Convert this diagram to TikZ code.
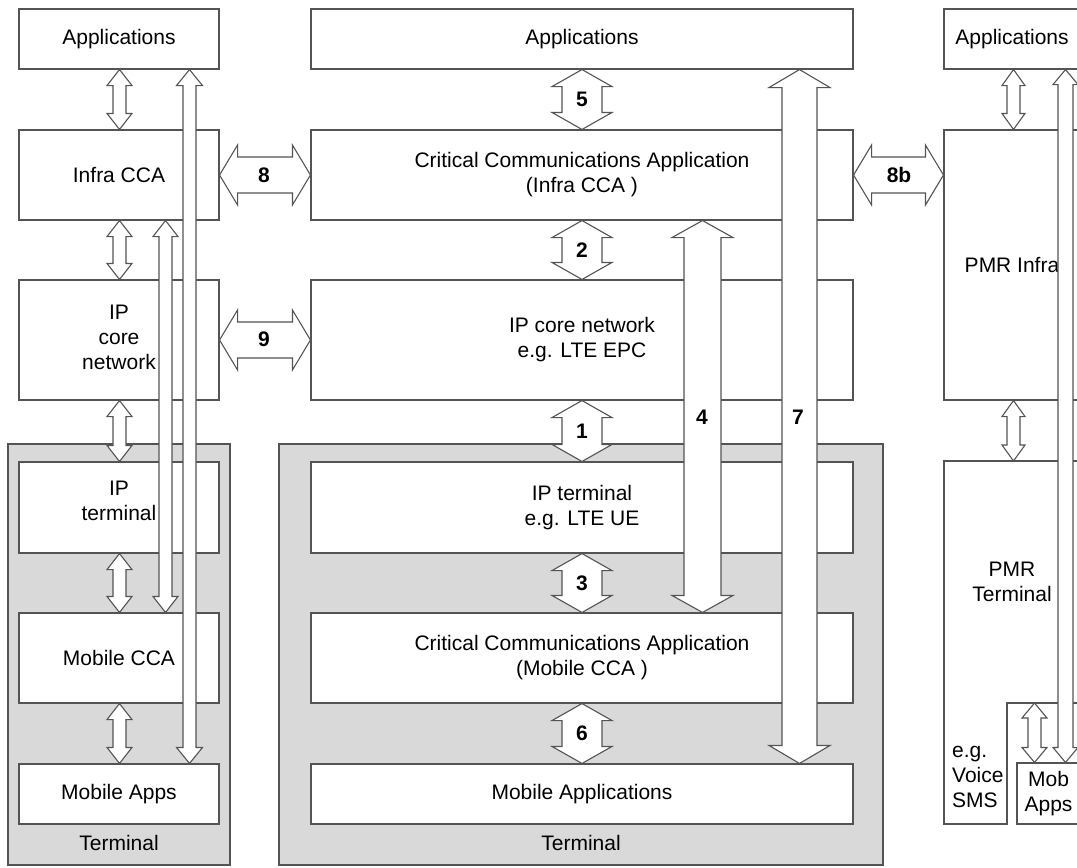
\documentclass[tikz,border=0pt]{standalone}
\usepackage{fontspec}
\setmainfont{Liberation Sans}
\usetikzlibrary{calc}
\definecolor{ln}{gray}{0.33}
\definecolor{tg}{gray}{0.85}
\newcommand\fs{\fontsize{21}{25}\selectfont}
\tikzset{
  box/.style={draw=ln, fill=white, line width=1.1pt, inner sep=0pt, align=center, font=\fs},
  term/.style={draw=ln, fill=tg, line width=1.1pt, inner sep=0pt},
  txt/.style={inner sep=0pt, align=center, font=\fs},
  num/.style={inner sep=0pt, font=\fs\bfseries},
  outl/.style={draw=ln, line width=1.1pt, line join=miter},
  barrow/.style={draw=ln, fill=white, line width=1.1pt, line join=miter}
}
% vertical double block arrow: #1 top anchor, #2 bottom anchor, #3 x, #4 shaft half, #5 head half, #6 head length
\newcommand\VArrow[6]{%
  \filldraw[barrow] let \p1=(#1), \p2=(#2) in
    (#3pt,\y1) -- ({#3pt+#5pt},{\y1-#6pt}) -- ({#3pt+#4pt},{\y1-#6pt})
    -- ({#3pt+#4pt},{\y2+#6pt}) -- ({#3pt+#5pt},{\y2+#6pt}) -- (#3pt,\y2)
    -- ({#3pt-#5pt},{\y2+#6pt}) -- ({#3pt-#4pt},{\y2+#6pt})
    -- ({#3pt-#4pt},{\y1-#6pt}) -- ({#3pt-#5pt},{\y1-#6pt}) -- cycle;}
% horizontal double block arrow: #1 left anchor, #2 right anchor, #3 shaft half, #4 head half, #5 head length
\newcommand\HArrow[5]{%
  \filldraw[barrow] let \p1=(#1), \p2=(#2) in
    (\x1,\y1) -- ({\x1+#5pt},{\y1+#4pt}) -- ({\x1+#5pt},{\y1+#3pt})
    -- ({\x2-#5pt},{\y1+#3pt}) -- ({\x2-#5pt},{\y1+#4pt}) -- (\x2,\y1)
    -- ({\x2-#5pt},{\y1-#4pt}) -- ({\x2-#5pt},{\y1-#3pt})
    -- ({\x1+#5pt},{\y1-#3pt}) -- ({\x1+#5pt},{\y1-#4pt}) -- cycle;}
\begin{document}
\begin{tikzpicture}[x=1pt,y=-1pt]
\useasboundingbox (0,0) rectangle (1077,868);
\clip (0,0) rectangle (1077,868);
\fill[white] (0,0) rectangle (1077,868);

% terminal backgrounds
\node[term, minimum width=222pt, minimum height=421pt] (termL) at (119,654.5) {};
\node[term, minimum width=604pt, minimum height=421pt] (termM) at (581,654.5) {};

% left column
\node[box, minimum width=200pt, minimum height=60pt] (appL) at (119,39) {Applications};
\node[box, minimum width=200pt, minimum height=90pt] (infL) at (119,175) {Infra CCA};
\node[box, minimum width=200pt, minimum height=120pt] (ipcL) at (119,340) {};
\node[txt] (ipcLt) at (119,337) {IP\\core\\network};
\node[box, minimum width=200pt, minimum height=91pt] (iptL) at (119,507.5) {};
\node[txt] (iptLt) at (119,501) {IP\\terminal};
\node[box, minimum width=200pt, minimum height=90pt] (mccL) at (119,658) {Mobile CCA};
\node[box, minimum width=200pt, minimum height=60pt] (mapL) at (119,794) {Mobile Apps};
\node[txt] (tlL) at (119,843) {Terminal};

% middle column
\node[box, minimum width=542pt, minimum height=60pt] (appM) at (582,39) {Applications};
\node[box, minimum width=542pt, minimum height=90pt] (infM) at (582,175) {Critical Communications Application\\(Infra CCA )};
\node[box, minimum width=542pt, minimum height=120pt] (ipcM) at (582,340) {IP core network\\e.g. LTE EPC};
\node[box, minimum width=542pt, minimum height=91pt] (iptM) at (582,507.5) {IP terminal\\e.g. LTE UE};
\node[box, minimum width=542pt, minimum height=90pt] (mccM) at (582,658) {Critical Communications Application\\(Mobile CCA )};
\node[box, minimum width=542pt, minimum height=60pt] (mapM) at (582,794) {Mobile Applications};
\node[txt] (tlM) at (581,843) {Terminal};

% right column
\node[box, minimum width=136pt, minimum height=60pt] (appR) at (1012,39) {Applications};
\node[box, minimum width=136pt, minimum height=270pt] (pmrI) at (1012,265) {PMR Infra};
\node[txt, outer sep=0pt, minimum width=136pt, minimum height=242pt] (pmrT) at (1012,582) {PMR\\Terminal};
\coordinate (pmrBL) at (944,824);
\coordinate (vBR) at (1007,824);
\coordinate (notchC) at (1007,703);
\draw[outl] (pmrT.north east) -- (pmrT.north west) -- (pmrBL) -- (vBR) -- (notchC) -- (pmrT.south east);
\node[txt, align=left, anchor=west] (voice) at (952,777) {e.g.\\Voice\\SMS};
\node[box, minimum width=63pt, minimum height=61pt] (mobA) at (1048.5,793.5) {Mob\\Apps};

% short arrows, left column
\VArrow{appL.south}{infL.north}{119.5}{6.5}{12.5}{16}
\VArrow{infL.south}{ipcL.north}{119.5}{6.5}{12.5}{16}
\VArrow{ipcL.south}{iptL.north}{119.5}{6.5}{12.5}{16}
\VArrow{iptL.south}{mccL.north}{119.5}{6.5}{12.5}{16}
\VArrow{mccL.south}{mapL.north}{119.5}{6.5}{12.5}{16}

% short arrows, middle column
\VArrow{appM.south}{infM.north}{582}{20}{30}{17}
\VArrow{infM.south}{ipcM.north}{582}{20}{30}{17}
\VArrow{ipcM.south}{iptM.north}{582}{20}{30}{17}
\VArrow{iptM.south}{mccM.north}{582}{20}{30}{17}
\VArrow{mccM.south}{mapM.north}{582}{20}{30}{17}

% short arrows, right column
\VArrow{appR.south}{pmrI.north}{1013.5}{6.5}{11.5}{16}
\VArrow{pmrI.south}{pmrT.north}{1013.5}{6.5}{11.5}{16}
\VArrow{pmrT.south}{mobA.north}{1034.5}{6.5}{12.5}{15}

% horizontal arrows
\HArrow{infL.east}{infM.west}{18}{30}{18}
\HArrow{ipcL.east}{ipcM.west}{18}{30}{18}
\HArrow{infM.east}{pmrI.west}{18}{30}{18}

% long arrows
\VArrow{infL.south}{mccL.north}{165.5}{6.5}{12.5}{16}
\VArrow{appL.south}{mapL.north}{189.5}{6.5}{13}{16}
\VArrow{infM.south}{mccM.north}{702.5}{18.5}{30.5}{17}
\VArrow{appM.south}{mapM.north}{799.5}{17.5}{30.5}{18}
\VArrow{appR.south}{mobA.north}{1065.5}{7.5}{12.5}{15}

% labels
\node[num] (n5) at (582,99) {5};
\node[num] (n2) at (582,250) {2};
\node[num] (n1) at (582,431) {1};
\node[num] (n3) at (582,583) {3};
\node[num] (n6) at (582,733) {6};
\node[num] (n8) at (264,175) {8};
\node[num] (n9) at (264,339) {9};
\node[num] (n8b) at (899,175) {8b};
\node[num] (n4) at (702,417) {4};
\node[num] (n7) at (798,417) {7};
\end{tikzpicture}
\end{document}
